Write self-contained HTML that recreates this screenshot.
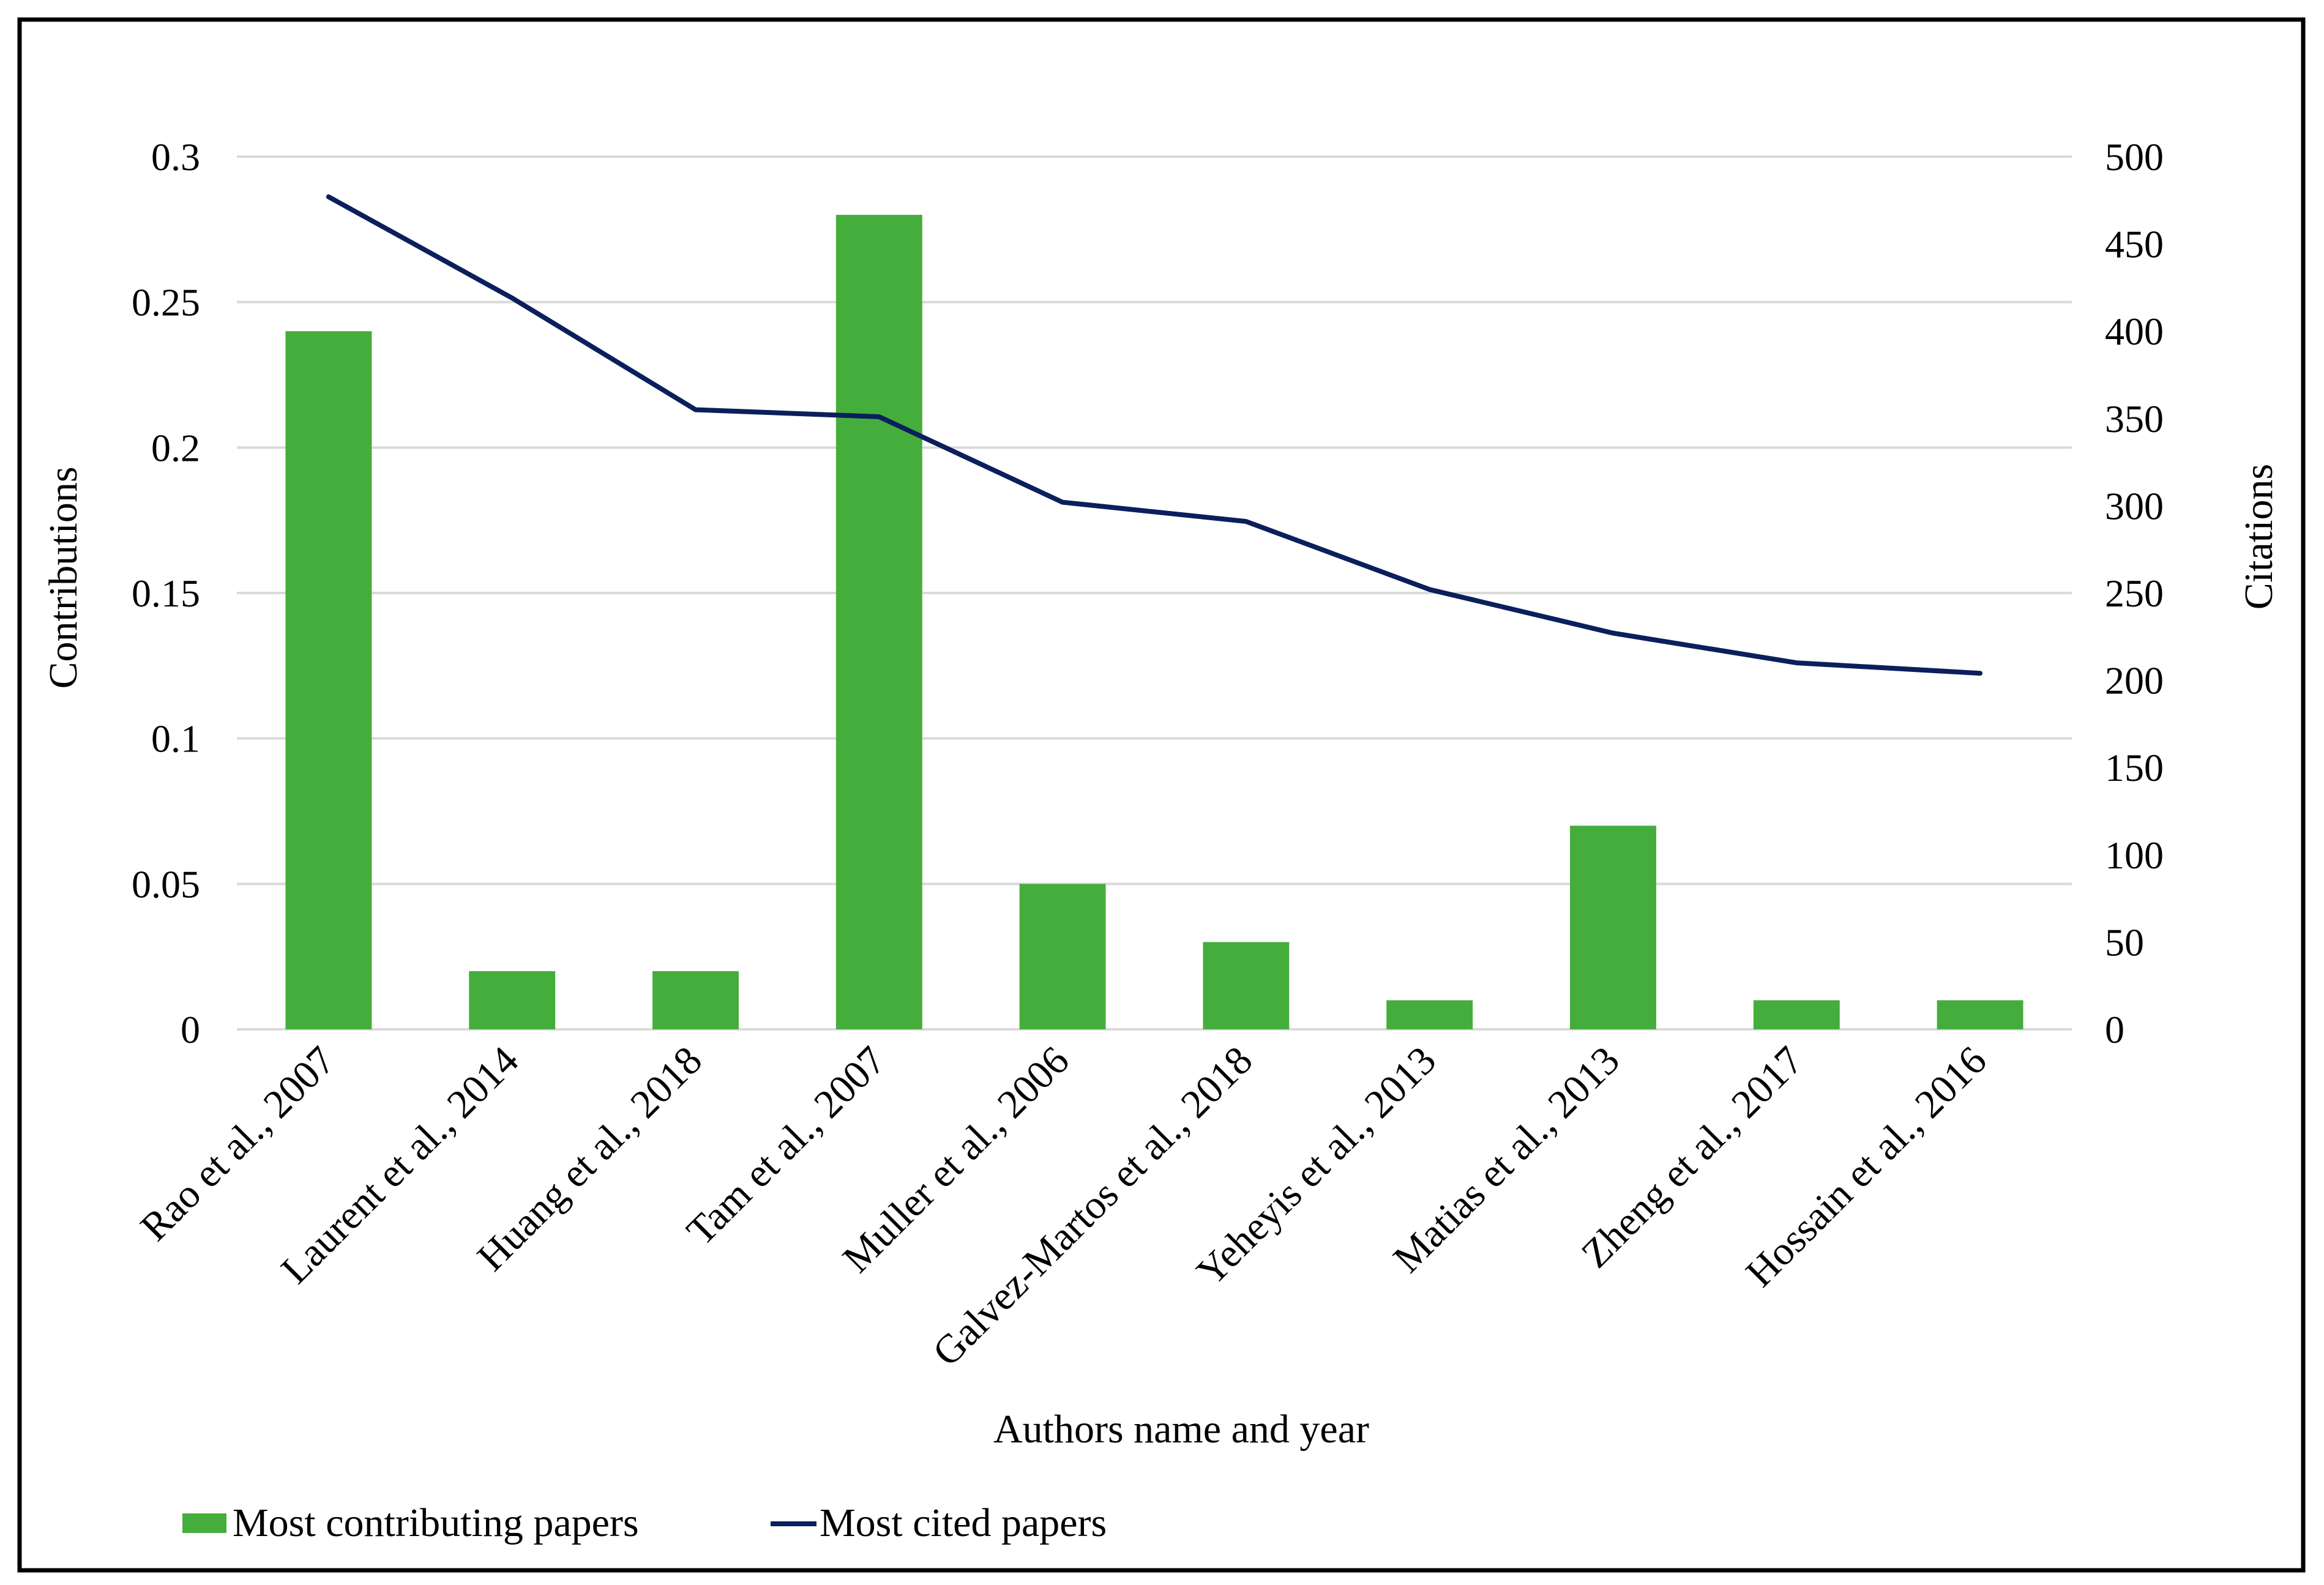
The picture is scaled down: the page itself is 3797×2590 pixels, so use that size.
<!DOCTYPE html>
<html><head><meta charset="utf-8"><style>
html,body{margin:0;padding:0;background:#fff}
svg{display:block}
text{font-family:"Liberation Serif",serif;fill:#000}
</style></head><body>
<svg id="chart" width="3797" height="2590" viewBox="0 0 3797 2590" xmlns="http://www.w3.org/2000/svg">
<rect x="0" y="0" width="3797" height="2590" fill="#fff"/>
<rect x="32" y="32" width="3731" height="2534" fill="none" stroke="#000" stroke-width="7"/>
<g id="grid"></g>
<g id="bars"></g>
<g id="line"></g>
<g id="ticks"></g>
<text x="125" y="944" font-size="66" text-anchor="middle" transform="rotate(-90 125 944)">Contributions</text>
<text x="3712" y="877" font-size="66" text-anchor="middle" transform="rotate(-90 3712 877)">Citations</text>
<text x="1930" y="2357" font-size="66" text-anchor="middle">Authors name and year</text>
<g>
<rect x="298" y="2473" width="72" height="32" fill="#45ad3c"/>
<text x="380" y="2510" font-size="66">Most contributing papers</text>
<line x1="1259" y1="2490" x2="1334" y2="2490" stroke="#0b1f5c" stroke-width="8"/>
<text x="1339" y="2510" font-size="66">Most cited papers</text>
</g>
</svg>
<script>
const categories = ["Rao et al., 2007","Laurent et al., 2014","Huang et al., 2018","Tam et al., 2007","Muller et al., 2006","Galvez-Martos et al., 2018","Yeheyis et al., 2013","Matias et al., 2013","Zheng et al., 2017","Hossain et al., 2016"];
const contributions = [0.24,0.02,0.02,0.28,0.05,0.03,0.01,0.07,0.01,0.01];
const citations = [477,419,355,351,302,291,252,227,210,204];
const leftTicks = ["0","0.05","0.1","0.15","0.2","0.25","0.3"];
const rightTicks = ["0","50","100","150","200","250","300","350","400","450","500"];

const NS = "http://www.w3.org/2000/svg";
const X0 = 387, X1 = 3385, Y0 = 1682, Y1 = 256;
const step = (X1 - X0) / categories.length;
function xc(i){ return X0 + step * (i + 0.5); }
function yL(v){ return Y0 - (v / 0.3) * (Y0 - Y1); }
function yR(v){ return Y0 - (v / 500) * (Y0 - Y1); }
function mk(tag, attrs, parent){
  const e = document.createElementNS(NS, tag);
  for (const k in attrs) e.setAttribute(k, attrs[k]);
  parent.appendChild(e);
  return e;
}
const grid = document.getElementById('grid');
const ticks = document.getElementById('ticks');
leftTicks.forEach(function(t){
  const v = parseFloat(t);
  const y = yL(v);
  const l = mk('line', {x1:X0, x2:X1, y1:y, y2:y, stroke:'#d9d9d9', 'stroke-width':4}, grid);
  
  
  const tx = mk('text', {x:327, y:y+22, 'font-size':64, 'text-anchor':'end'}, ticks);
  tx.textContent = t;
  
  
});
rightTicks.forEach(function(t){
  const y = yR(parseFloat(t));
  const tx = mk('text', {x:3439, y:y+22, 'font-size':64, 'text-anchor':'start'}, ticks);
  tx.textContent = t;
  
  
});
const bars = document.getElementById('bars');
const bw = step * 0.47;
contributions.forEach(function(v, i){
  const y = yL(v);
  const r = mk('rect', {x:xc(i)-bw/2, y:y, width:bw, height:Y0-y, fill:'#45ad3c'}, bars);
  
  
});
categories.forEach(function(c, i){
  const x = xc(i) + 14, y = Y0 + 55;
  const tx = mk('text', {x:x, y:y, 'font-size':66, 'text-anchor':'end', transform:'rotate(-45 '+x+' '+y+')'}, ticks);
  tx.textContent = c;
  
  
});
const pts = citations.map(function(v, i){ return xc(i) + ',' + yR(v); }).join(' ');
const pl = mk('polyline', {points:pts, fill:'none', stroke:'#0b1f5c', 'stroke-width':8, 'stroke-linejoin':'round', 'stroke-linecap':'round'}, document.getElementById('line'));


</script>
</body></html>
